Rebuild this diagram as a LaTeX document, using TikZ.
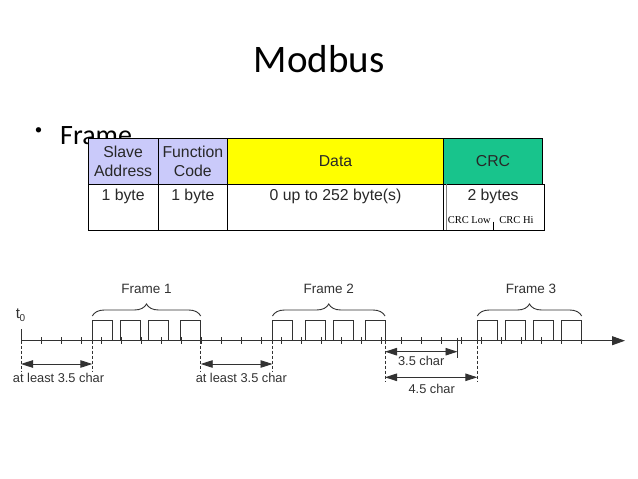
\documentclass[tikz,border=0pt]{standalone}
\usepackage{fontspec}
\setmainfont{Carlito}
\newfontfamily\arialf{Liberation Sans}
\newfontfamily\serifr{Liberation Serif}
\usetikzlibrary{arrows.meta,decorations.pathreplacing}
\definecolor{lav}{RGB}{202,202,250}
\definecolor{yel}{RGB}{255,255,0}
\definecolor{grn}{RGB}{24,196,140}
\definecolor{tlc}{RGB}{50,50,50}
\definecolor{txc}{RGB}{40,40,40}
\tikzset{
  cell/.style={draw=black, line width=0.8pt, inner sep=0pt, align=center,
    font=\arialf\fontsize{15.8}{18.3}\selectfont, text=txc},
  celltext/.style={inner sep=0pt, font=\arialf\fontsize{15.8}{18.3}\selectfont, text=txc},
  smalltext/.style={inner sep=0pt, font=\serifr\fontsize{10.5}{12}\selectfont, text=black},
  tl/.style={draw=tlc, line width=0.9pt},
  dashln/.style={draw=tlc, line width=0.9pt, dash pattern=on 3pt off 2pt},
  dimarrow/.style={tl, {Triangle[length=12pt,width=7.5pt]}-{Triangle[length=12pt,width=7.5pt]}},
  tltext/.style={inner sep=0pt, text=tlc, font=\arialf\fontsize{12.8}{14}\selectfont},
  frametext/.style={inner sep=0pt, text=tlc, font=\arialf\fontsize{13.5}{15}\selectfont},
  pulse/.style={tl}
}
\begin{document}
\begin{tikzpicture}[x=1pt,y=-1pt]
\useasboundingbox (0,0) rectangle (638,479);
\fill[white] (0,0) rectangle (638,479);

% title and bullet
\node[anchor=base, inner sep=0pt, font=\fontsize{39}{44}\selectfont] (title) at (319,72.7) {Modbus};
\node[inner sep=0pt, font=\fontsize{15}{18}\selectfont] (bullet) at (38.7,130.8) {•};
\node[anchor=base west, inner sep=0pt, font=\fontsize{28}{32}\selectfont] (frame) at (60,144.7) {Frame};

% table, top row
\node[cell, fill=lav, minimum width=69.7pt, minimum height=46pt] (slave) at (123.15,161.3) {Slave\\Address};
\node[cell, fill=lav, minimum width=69.7pt, minimum height=46pt] (func) at (192.85,161.3) {Function\\Code};
\node[cell, fill=yel, minimum width=215.6pt, minimum height=46pt] (data) at (335.5,161.3) {Data};
\node[cell, fill=grn, minimum width=99.4pt, minimum height=46pt] (crc) at (493,161.3) {CRC};
% table, bottom row
\node[cell, fill=white, minimum width=69.7pt, minimum height=45.7pt] (slaveb) at (123.15,207.15) {};
\node[cell, fill=white, minimum width=69.7pt, minimum height=45.7pt] (funcb) at (192.85,207.15) {};
\node[cell, fill=white, minimum width=215.6pt, minimum height=45.7pt] (datab) at (335.5,207.15) {};
\node[cell, fill=white, minimum width=100.7pt, minimum height=45.7pt] (crcb) at (493.65,207.15) {};
\draw[draw=gray, line width=0.6pt] (446,184.3) -- (446,230);
\node[celltext] (b1) at (123.15,196) {1 byte};
\node[celltext] (b2) at (192.85,196) {1 byte};
\node[celltext] (b3) at (335.5,196) {0 up to 252 byte(s)};
\node[celltext] (b4) at (493,196) {2 bytes};
\node[smalltext] (crclow) at (469.3,220) {CRC Low};
\node[smalltext] (crchi) at (516.5,220) {CRC Hi};
\coordinate (divtop) at (493.3,221.7);
\coordinate (divbot) at (493.3,230);
\draw[line width=0.6pt] (divtop) -- (divbot);

% timeline axis
\coordinate (t0) at (21,340.7);
\coordinate (tend) at (625,340.7);
\coordinate (t0top) at (21,329.3);
\draw[tl, -{Triangle[length=13pt,width=9pt]}] (t0) -- (tend);
\draw[tl] (t0top) -- (t0);
\node[inner sep=0pt, text=tlc, font=\arialf\fontsize{15}{16}\selectfont] (t0lab) at (20.5,315) {t\kern-0.5pt\raisebox{-3pt}{\fontsize{10}{10}\selectfont 0}};

% ticks
\foreach \k in {1,...,28} \draw[tl] ({21+20*\k},337.2) -- ({21+20*\k},344.2);

% pulses
\foreach \a/\b in {92.3/112.5, 120/140, 148.3/168.3, 180.5/200.7,
                   272.5/292.5, 305/325, 333/353, 365/385,
                   477.3/497, 505/525, 533.3/553.3, 561.5/581.7}
  \draw[pulse] (\a,340.7) |- (\b,320.7) -- (\b,340.7);

% braces and frame labels
\draw[tl, decorate, decoration={brace, amplitude=12pt}] (92.3,316) -- (200.7,316);
\draw[tl, decorate, decoration={brace, amplitude=12pt}] (272.5,316) -- (385,316);
\draw[tl, decorate, decoration={brace, amplitude=12pt}] (477.3,316) -- (581.7,316);
\node[frametext] (f1) at (146.5,289.3) {Frame 1};
\node[frametext] (f2) at (328.8,289.3) {Frame 2};
\node[frametext] (f3) at (531,289.3) {Frame 3};

% dashed guides
\coordinate (g1a) at (21,340.7);    \coordinate (g1b) at (21,371);
\coordinate (g2a) at (92.3,340.7);  \coordinate (g2b) at (92.3,371);
\coordinate (g3a) at (200.7,340.7); \coordinate (g3b) at (200.7,371);
\coordinate (g4a) at (272.5,340.7); \coordinate (g4b) at (272.5,371);
\coordinate (g5a) at (385,340.7);   \coordinate (g5b) at (385,382);
\coordinate (g6a) at (477.3,340.7); \coordinate (g6b) at (477.3,382);
\foreach \g in {1,...,6} \draw[dashln] (g\g a) -- (g\g b);

% dimension arrows
\coordinate (a1l) at (21,364);    \coordinate (a1r) at (92.3,364);
\coordinate (a2l) at (200.7,364); \coordinate (a2r) at (272.5,364);
\coordinate (a3l) at (385,351.7); \coordinate (a3r) at (457.5,351.7);
\coordinate (a4l) at (385,377.3); \coordinate (a4r) at (477.3,377.3);
\draw[dimarrow] (a1l) -- (a1r);
\draw[dimarrow] (a2l) -- (a2r);
\draw[dimarrow] (a3l) -- (a3r);
\draw[dimarrow] (a4l) -- (a4r);
\coordinate (e35t) at (457.5,337.5);
\coordinate (e35b) at (457.5,358);
\draw[tl] (e35t) -- (e35b);

\node[tltext] (l1) at (58.5,377.5) {at least 3.5 char};
\node[tltext] (l2) at (241.3,377.5) {at least 3.5 char};
\node[tltext] (l3) at (421.2,360.5) {3.5 char};
\node[tltext] (l4) at (431.7,388.5) {4.5 char};
\end{tikzpicture}
\end{document}
